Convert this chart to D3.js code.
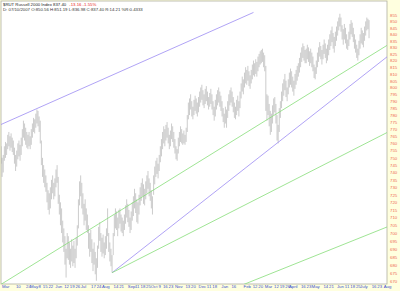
<!DOCTYPE html>
<html lang="en">
<head>
    <meta charset="UTF-8">
    <title>$RUT Russell 2000 Index</title>
    <script src="https://d3js.org/d3.v7.min.js"></script>
    <style>
        body { margin: 0; background: #ffffdf; }
        svg { display: block; }
        .head { font-family: "Liberation Sans", Arial, sans-serif; font-size: 4.3px; }
        .axis text { font-family: "Liberation Sans", Arial, sans-serif; font-size: 4.3px; }
        .axis path, .axis line { display: none; }
        .price-axis text { fill: #ee6a55; }
        .date-axis text { fill: #3a4fd0; }
    </style>
</head>
<body>
<svg id="chart"></svg>
<script>
    // trading calendar (weekdays minus exchange holidays)
    const firstDay = "2006-03-20";
    const lastDay = "2007-08-01";
    const holidays = ["2006-04-14", "2006-05-29", "2006-07-04", "2006-09-04", "2006-11-23",
        "2006-12-25", "2007-01-01", "2007-01-02", "2007-01-15", "2007-02-19", "2007-04-06",
        "2007-05-28", "2007-07-04"];

    // daily highs / lows of $RUT, one per trading day from 2006-03-20
    const highs = [
        758,750,752,758,761,760,766,768,765,767, 764,762,757,752,755,760,762,759,764,770,
        776,774,771,768,766,768,765,770,774,778, 777,781,784,783,779,776,762,750,745,742,
        738,733,728,726,730,735,738,733,736,742, 745,737,725,720,716,708,703,698,690,700,
        698,694,690,696,692,695,690,697,705,722, 734,738,733,726,719,722,716,712,705,700,
        702,696,690,694,688,684,692,704,707,700, 697,699,694,698,703,716,700,694,690,686,
        700,712,716,714,710,715,716,712,710,708, 712,718,722,719,715,710,714,720,724,729,
        726,722,720,725,730,733,736,732,729,734, 738,741,736,733,728,724,738,744,748,750,
        746,752,758,763,768,772,770,773,775,771, 766,769,774,772,768,763,758,756,764,768,
        772,770,767,769,766,771,780,789,792,795, 790,786,791,794,792,789,793,797,800,802,
        798,795,799,801,797,793,796,799,795,790, 786,791,795,798,800,797,794,790,785,781,
        786,784,790,795,798,800,797,793,789,786, 791,794,790,797,803,808,806,811,815,813,
        816,812,809,813,817,820,818,821,819,823, 825,827,828,829,826,824,816,795,794,788,
        783,781,787,792,793,788,780,773,785,790, 797,803,806,810,805,800,806,811,814,812,
        808,805,810,813,816,818,822,826,830,833, 831,828,829,832,830,827,829,826,823,817,
        815,820,826,830,834,831,828,832,836,833, 829,832,836,840,843,846,841,838,842,846,
        850,853,856,853,847,844,848,845,840,836, 842,848,851,849,845,840,836,832,829,835,
        840,845,843,841,846,850,853,852,851
    ];
    const lows = [
        746,737,740,748,750,752,756,758,755,757, 754,752,746,741,744,749,751,748,752,758,
        764,762,759,757,756,758,756,759,764,768, 767,771,774,772,768,760,745,737,733,730,
        727,720,715,712,716,722,726,722,724,730, 733,719,712,705,700,694,688,680,672,684,
        683,680,678,682,679,681,678,684,692,703, 718,724,716,712,705,708,702,700,690,685,
        688,681,676,680,674,670,678,690,695,688, 685,687,684,686,690,698,688,682,679,675,
        686,698,703,702,698,703,706,701,700,698, 702,706,710,707,704,700,702,708,711,716,
        713,707,706,712,718,721,724,719,718,722, 726,729,724,721,716,712,725,732,737,739,
        736,741,747,751,756,760,758,762,764,760, 756,758,763,761,757,753,749,748,753,758,
        761,760,759,760,759,761,768,777,780,784, 779,777,780,783,781,779,782,786,789,791,
        787,785,788,790,787,784,786,788,784,780, 776,779,784,787,789,786,783,779,775,771,
        774,771,778,783,787,789,786,782,778,777, 780,783,779,785,792,797,795,800,803,802,
        805,801,799,803,806,809,808,810,808,812, 815,817,818,819,815,812,783,776,780,772,
        766,768,774,780,782,774,762,760,768,778, 785,790,794,798,793,790,795,800,802,800,
        797,794,799,802,805,808,811,815,819,822, 820,818,818,821,819,816,818,815,812,807,
        806,810,815,819,823,821,817,821,825,822, 818,820,824,828,831,834,829,826,831,835,
        839,843,846,842,836,832,836,833,829,828, 831,836,840,838,834,829,826,822,820,824,
        829,833,832,830,835,839,843,844,837
    ];

    const priceTicks = [855, 850, 845, 840, 835, 830, 825, 820, 815, 810, 805, 800, 795, 790,
        785, 780, 775, 770, 765, 760, 755, 750, 745, 740, 735, 730, 725, 720, 715, 710, 705,
        700, 695, 690, 685, 680, 675, 670];

    const dateTickDays = ["2006-03-20", "2006-04-10", "2006-04-24", "2006-05-01", "2006-05-08",
        "2006-05-15", "2006-05-22", "2006-06-01", "2006-06-12", "2006-06-19", "2006-06-26",
        "2006-07-03", "2006-07-17", "2006-07-24", "2006-08-01", "2006-08-14", "2006-08-21",
        "2006-09-01", "2006-09-11", "2006-09-18", "2006-09-25", "2006-10-02", "2006-10-09",
        "2006-10-16", "2006-10-23", "2006-11-01", "2006-11-13", "2006-11-20", "2006-12-01",
        "2006-12-11", "2006-12-18", "2007-01-03", "2007-01-16", "2007-02-01", "2007-02-12",
        "2007-02-20", "2007-03-01", "2007-03-12", "2007-03-19", "2007-03-26", "2007-04-02",
        "2007-04-16", "2007-04-23", "2007-05-01", "2007-05-14", "2007-05-21", "2007-06-01",
        "2007-06-11", "2007-06-18", "2007-06-25", "2007-07-02", "2007-07-16", "2007-07-23",
        "2007-08-01"];
    const dateTickLabels = ["Mar", "10", "24", "May", "8", "15", "22", "Jun", "12", "19", "26",
        "Jul", "17", "24", "Aug", "14", "21", "Sep", "11", "18", "25", "Oct", "9", "16", "23",
        "Nov", "13", "20", "Dec", "11", "18", "Jan", "16", "Feb", "12", "20", "Mar", "12", "19",
        "26", "April", "16", "23", "May", "14", "21", "Jun", "11", "18", "25", "July", "16", "23",
        "Aug"];

    // trend lines: [date, price] at each end
    const trendKind = ["purple", "green", "purple", "green", "green"];
    const trendFrom = [["2006-03-20", 773.3], ["2006-03-20", 667.8], ["2006-08-09", 675],
        ["2006-08-09", 675], ["2007-01-26", 667.4]];
    const trendTo = [["2007-02-09", 857], ["2007-08-01", 831.5], ["2007-08-01", 822.8],
        ["2007-08-01", 767.6], ["2007-08-01", 703.9]];

    const headSymbol = "$RUT Russell 2000 Index  837.40";
    const headChange = "-13.16   -1.55%";
    const headBar = "D: 07/10/2007 O:850.56 H:851.19 L:836.98 C:837.40 R:14.21 %R:0.4333";

    // ---- layout ----
    const W = 400, H = 291;
    const plot = { left: 1, top: 1, right: 387, bottom: 284 };

    const parse = d3.utcParse("%Y-%m-%d");
    const fmt = d3.utcFormat("%Y-%m-%d");
    const closed = new Set(holidays);
    const tradingDays = d3.utcDay.range(parse(firstDay), d3.utcDay.offset(parse(lastDay), 1))
        .filter(d => d.getUTCDay() !== 0 && d.getUTCDay() !== 6 && !closed.has(fmt(d)))
        .map(fmt);
    const dayIndex = new Map(tradingDays.map((d, i) => [d, i]));

    const x = d3.scaleLinear()
        .domain([0, tradingDays.length - 1])
        .range([plot.left, plot.right]);
    const y = d3.scaleLog()
        .domain([670, 855])
        .range([280.8, 15]);

    const svg = d3.select("#chart").attr("width", W).attr("height", H);

    svg.append("rect").attr("width", W).attr("height", H).attr("fill", "#ffffdf");
    svg.append("rect")
        .attr("x", plot.left).attr("y", plot.top)
        .attr("width", plot.right - plot.left).attr("height", plot.bottom - plot.top)
        .attr("fill", "#fff").attr("stroke", "#b0b0a0").attr("stroke-width", 0.8);

    svg.append("clipPath").attr("id", "plot-clip")
        .append("rect")
        .attr("x", plot.left).attr("y", plot.top)
        .attr("width", plot.right - plot.left).attr("height", plot.bottom - plot.top);

    const inner = svg.append("g").attr("clip-path", "url(#plot-clip)");

    // price bars
    inner.append("g").selectAll("line")
        .data(highs.map((h, i) => ({ i, h, l: lows[i] })))
        .join("line")
        .attr("x1", d => x(d.i)).attr("x2", d => x(d.i))
        .attr("y1", d => y(d.h)).attr("y2", d => y(d.l))
        .attr("stroke", "#8e8e8e")
        .attr("stroke-width", 0.45);

    // trend lines
    const lineColor = { purple: "#9c8cf2", green: "#86dd78" };
    inner.append("g").selectAll("line")
        .data(trendKind.map((k, i) => ({ k, a: trendFrom[i], b: trendTo[i] })))
        .join("line")
        .attr("x1", d => x(dayIndex.get(d.a[0]))).attr("y1", d => y(d.a[1]))
        .attr("x2", d => x(dayIndex.get(d.b[0]))).attr("y2", d => y(d.b[1]))
        .attr("stroke", d => lineColor[d.k])
        .attr("stroke-width", 0.8);

    // right price axis
    svg.append("g")
        .attr("class", "axis price-axis")
        .attr("transform", `translate(${plot.right},0)`)
        .call(d3.axisRight(y).tickValues(priceTicks).tickFormat(d3.format("d")).tickSize(0).tickPadding(3));

    // bottom date axis
    const dateAxis = svg.append("g")
        .attr("class", "axis date-axis")
        .attr("transform", `translate(0,${plot.bottom})`)
        .call(d3.axisBottom(x)
            .tickValues(dateTickDays.map(d => dayIndex.get(d)))
            .tickFormat((d, i) => dateTickLabels[i])
            .tickSize(0).tickPadding(1.2));
    // first label sits at the left edge
    dateAxis.select(".tick text").attr("text-anchor", "start").attr("x", 0.5);

    // header
    const head = svg.append("g").attr("class", "head");
    const line1 = head.append("text").attr("x", 3).attr("y", 5.5);
    line1.append("tspan").attr("fill", "#222").text(headSymbol);
    line1.append("tspan").attr("fill", "#e8201a").attr("dx", 3).text(headChange);
    head.append("text").attr("x", 3).attr("y", 11).attr("fill", "#333").text(headBar);
</script>
</body>
</html>
